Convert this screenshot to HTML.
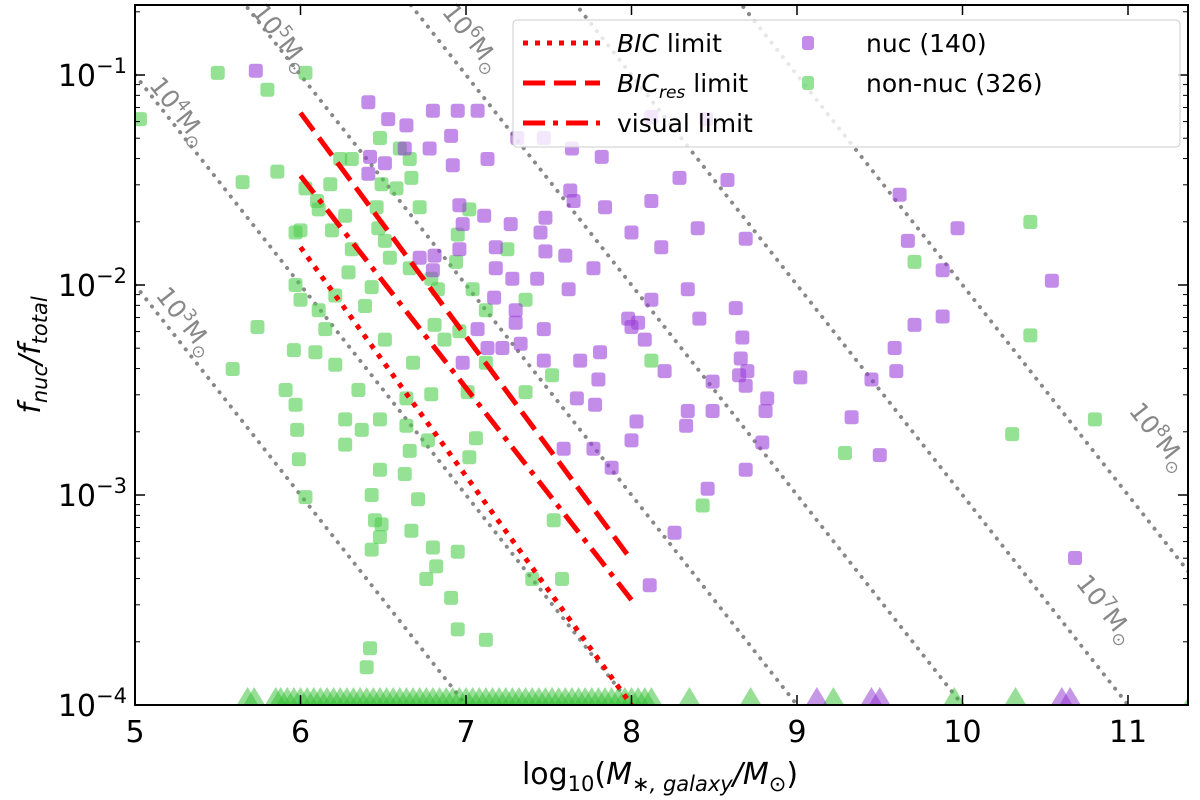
<!DOCTYPE html>
<html><head><meta charset="utf-8"><style>
html,body{margin:0;padding:0;background:#fff;overflow:hidden;width:1200px;height:800px}
svg{display:block}
svg text{font-family:"DejaVu Sans","Liberation Sans",sans-serif}
</style></head><body>
<svg id="c" width="1200" height="800" xmlns="http://www.w3.org/2000/svg"></svg>
<script>
const purpleX=[5.73,6.41,6.53,6.64,6.80,6.95,7.07,7.31,7.64,7.82,7.47,6.78,6.92,7.13,6.42,6.63,6.51,6.41,6.96,7.11,6.98,7.27,7.45,7.63,7.65,7.84,8.12,8.29,8.12,8.45,8.58,8.69,8.40,8.00,8.18,7.48,7.48,7.18,6.96,6.81,6.72,6.80,7.18,7.28,7.43,7.60,7.77,7.62,7.30,7.07,7.13,7.22,7.33,6.98,7.17,7.30,7.47,7.69,7.81,7.98,8.00,8.04,8.12,8.08,8.34,8.41,8.63,8.67,8.66,8.65,8.69,8.70,8.49,8.49,8.34,8.33,8.20,7.80,7.78,7.67,7.47,8.03,8.00,7.77,7.88,7.59,8.69,8.82,8.81,8.79,8.46,8.26,8.11,9.02,9.50,9.33,9.45,9.60,9.59,9.67,9.62,9.71,9.88,9.97,9.88,10.54,10.68,6.91];
const purpleY=[-0.98,-1.13,-1.21,-1.24,-1.17,-1.17,-1.17,-1.30,-1.35,-1.39,-1.30,-1.35,-1.43,-1.40,-1.39,-1.35,-1.42,-1.47,-1.62,-1.67,-1.71,-1.71,-1.75,-1.55,-1.60,-1.63,-1.60,-1.49,-1.20,-1.21,-1.50,-1.78,-1.73,-1.75,-1.82,-1.68,-1.84,-1.82,-1.83,-1.86,-1.87,-1.93,-1.92,-1.97,-1.97,-1.86,-1.92,-2.02,-2.18,-2.21,-2.30,-2.30,-2.28,-2.37,-2.06,-2.12,-2.36,-2.36,-2.32,-2.16,-2.20,-2.18,-2.07,-2.26,-2.02,-2.16,-2.11,-2.25,-2.35,-2.43,-2.48,-2.41,-2.46,-2.60,-2.60,-2.67,-2.41,-2.45,-2.57,-2.54,-2.21,-2.65,-2.74,-2.78,-2.87,-2.78,-2.88,-2.54,-2.60,-2.75,-2.97,-3.18,-3.43,-2.44,-2.81,-2.63,-2.45,-2.41,-2.30,-1.79,-1.57,-2.19,-2.15,-1.73,-1.93,-1.98,-3.30,-1.29];
const greenX=[5.03,5.50,5.65,5.59,5.80,6.03,5.86,5.74,5.97,6.00,5.97,6.00,5.91,5.96,5.97,5.98,5.99,6.03,6.03,6.10,6.11,6.18,6.19,6.27,6.31,6.29,6.24,6.31,6.21,6.11,6.15,6.09,6.21,6.27,6.27,6.35,6.37,6.48,6.48,6.43,6.45,6.49,6.48,6.43,6.66,6.63,6.71,6.67,6.80,6.82,6.76,6.95,6.91,6.95,7.12,6.42,6.40,6.64,6.77,6.64,6.68,6.51,6.39,6.43,6.54,6.51,6.47,6.46,6.49,6.48,6.58,6.67,6.66,6.60,6.72,6.66,6.79,6.94,6.83,6.81,6.87,6.96,7.04,7.12,7.01,7.12,7.36,7.52,6.79,7.06,7.02,7.02,7.36,6.95,7.25,7.40,7.53,7.58,8.12,8.43,9.29,9.71,10.41,10.41,10.30,10.80];
const greenY=[-1.21,-0.99,-1.51,-2.40,-1.07,-0.99,-1.46,-2.20,-1.75,-1.74,-2.00,-2.07,-2.50,-2.31,-2.57,-2.69,-2.83,-3.01,-1.54,-1.60,-1.64,-1.52,-1.74,-1.67,-1.83,-1.94,-1.40,-1.40,-2.05,-2.12,-2.21,-2.32,-2.38,-2.64,-2.76,-2.50,-2.69,-2.64,-2.88,-3.00,-3.12,-3.14,-3.20,-3.26,-2.79,-2.90,-3.02,-3.17,-3.25,-3.34,-3.40,-3.27,-3.49,-3.64,-3.69,-3.73,-3.82,-2.67,-2.74,-2.54,-2.37,-2.26,-2.10,-2.01,-1.87,-1.79,-1.73,-1.63,-1.52,-1.30,-1.54,-1.49,-1.40,-1.35,-1.63,-1.92,-1.97,-1.89,-2.02,-2.19,-2.26,-2.22,-2.02,-2.12,-2.51,-2.37,-2.51,-2.43,-2.52,-2.73,-2.82,-1.64,-2.07,-1.76,-1.83,-3.40,-3.12,-3.40,-2.36,-3.05,-2.80,-1.89,-1.70,-2.24,-2.71,-2.64];
const greenLimX=[5.68,5.72,5.85,5.88,5.92,5.96,6.0,6.04,6.08,6.12,6.16,6.2,6.24,6.28,6.32,6.36,6.4,6.44,6.48,6.52,6.56,6.6,6.64,6.68,6.72,6.76,6.8,6.84,6.88,6.92,6.96,7.0,7.04,7.08,7.12,7.16,7.2,7.24,7.28,7.32,7.36,7.4,7.44,7.48,7.52,7.56,7.6,7.64,7.68,7.72,7.76,7.8,7.84,7.88,7.92,7.96,8.0,8.04,8.08,8.12,8.35,8.72,9.22,9.95,10.32,11.4];
const purpleLimX=[9.12,9.45,9.5,10.6,10.65];
const massLines=[3,4,5,6,7,8];
const bicX=[6,8],bicY=[-1.82,-4.0];
const resX=[6,8],resY=[-1.18,-3.31];
const visX=[6,8],visY=[-1.48,-3.5];
const xTicks=[5,6,7,8,9,10,11];
const yTicks=[-4,-3,-2,-1];

const L=135,R=1188,T=5,B=705;
const sx=v=>L+(v-5)*165.5, sy=v=>B-(v+4)*210;
const ns="http://www.w3.org/2000/svg",svg=document.getElementById('c');
function mk(tag,at,parent){const e=document.createElementNS(ns,tag);for(const k in at)e.setAttribute(k,at[k]);(parent||svg).appendChild(e);return e;}
const cp=mk('clipPath',{id:'cp'});mk('rect',{x:L,y:T,width:R-L,height:B-T},cp);
const g=mk('g',{'clip-path':'url(#cp)'});
massLines.forEach(k=>{const x0=5,x1=12;const l=mk('line',{x1:sx(x0),y1:sy(k-x0),x2:sx(x1),y2:sy(k-x1),stroke:'#888','stroke-width':4,'stroke-dasharray':'0.1 9','stroke-linecap':'round'},g);

});
const labPos={3:[5.12,-2.05],4:[5.08,-1.05],5:[5.7,-0.7],6:[6.85,-0.7],7:[10.68,-3.42],8:[11.0,-2.6]};
massLines.forEach(k=>{const p=labPos[k];const t=mk('text',{x:sx(p[0]),y:sy(p[1]),fill:'#888','font-size':25,transform:`rotate(51.8 ${sx(p[0])} ${sy(p[1])})`});
t.innerHTML=`10<tspan dy="-10" font-size="17">${k}</tspan><tspan dy="10">M</tspan><tspan dy="6" font-size="17">⊙</tspan>`;

});
function pts(X,Y,col,name){X.forEach((x,i)=>{const r=mk('rect',{x:sx(x)-7,y:sy(Y[i])-7,width:14,height:14,rx:3,fill:col,opacity:0.6},g);

});}
pts(greenX,greenY,'#4fcf4f','non-nuc-point');
pts(purpleX,purpleY,'#9b3fd8','nuc-point');
function tris(X,col,name){X.forEach(x=>{const c=sx(x);const p=mk('polygon',{points:`${c-12},${B+2} ${c+12},${B+2} ${c},${B-18}`,fill:col,opacity:0.5},g);

});}
tris(greenLimX,'#2fbf2f','non-nuc-upper-limit');
tris(purpleLimX,'#8e2fd0','nuc-upper-limit');
function rl(X,Y,dash,name){const l=mk('line',{x1:sx(X[0]),y1:sy(Y[0]),x2:sx(X[1]),y2:sy(Y[1]),stroke:'#f00','stroke-width':5,'stroke-dasharray':dash},g);

}
rl(bicX,bicY,'5 7','bic-limit-line');
rl(resX,resY,'22 9','bic-res-limit-line');
rl(visX,visY,'22 8 5 8','visual-limit-line');
const f=mk('rect',{x:L,y:T,width:R-L,height:B-T,fill:'none',stroke:'#000','stroke-width':2});

xTicks.forEach(v=>{mk('line',{x1:sx(v),x2:sx(v),y1:B,y2:B-10,stroke:'#000','stroke-width':1.5});mk('line',{x1:sx(v),x2:sx(v),y1:T,y2:T+10,stroke:'#000','stroke-width':1.5});
const t=mk('text',{x:sx(v),y:B+37,'font-size':30,'text-anchor':'middle'});t.textContent=v;

});
yTicks.forEach(v=>{mk('line',{x1:L,x2:L+10,y1:sy(v),y2:sy(v),stroke:'#000','stroke-width':1.5});mk('line',{x1:R,x2:R-10,y1:sy(v),y2:sy(v),stroke:'#000','stroke-width':1.5});
for(let m=2;m<10;m++){const yy=sy(v+Math.log10(m));if(yy<T)continue;mk('line',{x1:L,x2:L+5,y1:yy,y2:yy,stroke:'#000'});mk('line',{x1:R,x2:R-5,y1:yy,y2:yy,stroke:'#000'});}
const t=mk('text',{x:L-8,y:sy(v)+11,'font-size':30,'text-anchor':'end'});t.innerHTML=`10<tspan dy="-13" font-size="21">−${-v}</tspan>`;

});
const xt=mk('text',{x:660,y:784,'font-size':30,'text-anchor':'middle'});
xt.innerHTML='log<tspan font-size="21" dy="7">10</tspan><tspan dy="-7">(</tspan><tspan font-style="italic">M</tspan><tspan font-size="21" dy="7" font-style="italic">∗, galaxy</tspan><tspan dy="-7" font-style="italic">/M</tspan><tspan font-size="21" dy="7">⊙</tspan><tspan dy="-7">)</tspan>';

const yt=mk('text',{x:40,y:355,'font-size':30,'text-anchor':'middle',transform:'rotate(-90 40 355)','font-style':'italic'});
yt.innerHTML='f<tspan font-size="21" dy="7">nuc</tspan><tspan dy="-7">/f</tspan><tspan font-size="21" dy="7">total</tspan>';

const lg=mk('g',{});
mk('rect',{x:513,y:20,width:667,height:127,rx:4,fill:'#fff','fill-opacity':0.8,stroke:'#ccc'},lg);
[['5 7','<tspan font-style="italic">BIC</tspan> limit'],['22 9','<tspan font-style="italic">BIC</tspan><tspan font-style="italic" font-size="17" dy="6">res</tspan><tspan dy="-6"> limit</tspan>'],['22 8 5 8','visual limit']].forEach((e,i)=>{const y=43+i*40;
mk('line',{x1:523,x2:600,y1:y,y2:y,stroke:'#f00','stroke-width':5,'stroke-dasharray':e[0]},lg);
const t=mk('text',{x:617,y:y+9,'font-size':25},lg);t.innerHTML=e[1];

});
[['#9b3fd8','nuc (140)'],['#4fcf4f','non-nuc (326)']].forEach((e,i)=>{const y=43+i*40;
mk('rect',{x:802,y:y-7,width:12,height:14,rx:3,fill:e[0],opacity:0.6},lg);
const t=mk('text',{x:866,y:y+9,'font-size':25},lg);t.textContent=e[1];

});
</script>
</body></html>
